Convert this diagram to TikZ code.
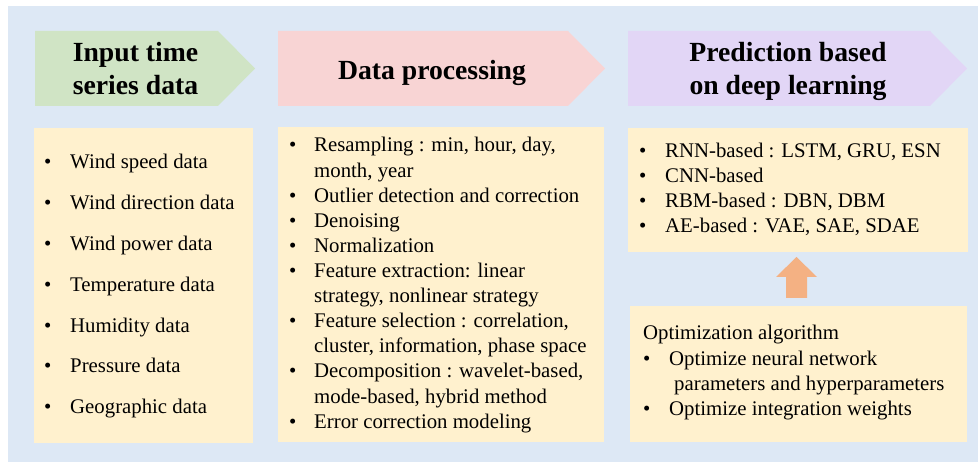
\documentclass[tikz,border=0pt]{standalone}
\usepackage{fontspec}
\setmainfont{Liberation Serif}
\definecolor{bgblue}{HTML}{DDE8F5}
\definecolor{hgreen}{HTML}{D0E4C5}
\definecolor{hpink}{HTML}{F8D4D4}
\definecolor{hpurple}{HTML}{E2D6F6}
\definecolor{boxyellow}{HTML}{FFF1CE}
\definecolor{uporange}{HTML}{F4B183}
\tikzset{
  titletext/.style={font=\fontsize{27.7}{33}\selectfont\bfseries, align=center, inner sep=0pt},
  itemtext/.style={font=\fontsize{20.8}{25}\selectfont, anchor=base west, inner sep=0pt},
  bul/.style={font=\fontsize{20.8}{25}\selectfont, anchor=base west, inner sep=0pt},
}
\begin{document}
\begin{tikzpicture}[x=1pt,y=-1pt]
\useasboundingbox (0,0) rectangle (978,462);
\fill[bgblue] (8,6) rectangle (978,462);
% header arrows
\fill[hgreen] (35,31) -- (218,31) -- (255,68.5) -- (218,106) -- (35,106) -- cycle;
\fill[hpink] (278,31) -- (568,31) -- (605,68.5) -- (568,106) -- (278,106) -- cycle;
\fill[hpurple] (628,31) -- (930,31) -- (967,68.5) -- (930,106) -- (628,106) -- cycle;
\node[titletext, anchor=base] (t1a) at (135.5,61.7) {Input time};
\node[titletext, anchor=base] (t1b) at (135.5,94.3) {series data};
\node[titletext, anchor=base] (t2) at (432,79.3) {Data processing};
\node[titletext, anchor=base] (t3a) at (788,61.7) {Prediction based};
\node[titletext, anchor=base] (t3b) at (788,94.3) {on deep learning};
% boxes
\fill[boxyellow] (34,128) rectangle (253,443);
\fill[boxyellow] (278,127) rectangle (604,442);
\fill[boxyellow] (628,128) rectangle (968,252);
\fill[boxyellow] (630,306) rectangle (967,442);
\coordinate (dlbox) at (798,252);
\coordinate (optbox) at (798,306);
% up arrow
\fill[uporange] (786,298) -- (786,277) -- (776,277) -- (796.5,257) -- (817,277) -- (807,277) -- (807,298) -- cycle;
% column 1
\foreach \t [count=\i from 0] in {Wind speed data,Wind direction data,Wind power data,Temperature data,Humidity data,Pressure data,Geographic data}{
  \node[bul] (b1-\i) at (44,169+40.8*\i) {•};
  \node[itemtext] (l1-\i) at (70,169+40.8*\i) {\t};
}
% column 2
\foreach \t/\b [count=\i from 0] in {Resampling : min{,} hour{,} day{,}/1,month{,} year/0,Outlier detection and correction/1,Denoising/1,Normalization/1,Feature extraction: linear/1,strategy{,} nonlinear strategy/0,Feature selection : correlation{,}/1,cluster{,} information{,} phase space/0,Decomposition : wavelet-based{,}/1,mode-based{,} hybrid method/0,Error correction modeling/1}{
  \ifnum\b=1 \node[bul] (b2-\i) at (289,152+25.1*\i) {•};\fi
  \node[itemtext] (l2-\i) at (314,152+25.1*\i) {\t};
}
% column 3
\foreach \t [count=\i from 0] in {RNN-based : LSTM{,} GRU{,} ESN,CNN-based,RBM-based : DBN{,} DBM,AE-based : VAE{,} SAE{,} SDAE}{
  \node[bul] (b3-\i) at (639,158+25*\i) {•};
  \node[itemtext] (l3-\i) at (665,158+25*\i) {\t};
}
% optimization
\node[itemtext] (o0) at (643,340) {Optimization algorithm};
\node[bul] (ob1) at (643,366) {•};
\node[itemtext] (o1) at (669,366) {Optimize neural network};
\node[itemtext] (o2) at (674,391) {parameters and hyperparameters};
\node[bul] (ob2) at (643,416) {•};
\node[itemtext] (o3) at (669,416) {Optimize integration weights};
\end{tikzpicture}
\end{document}
